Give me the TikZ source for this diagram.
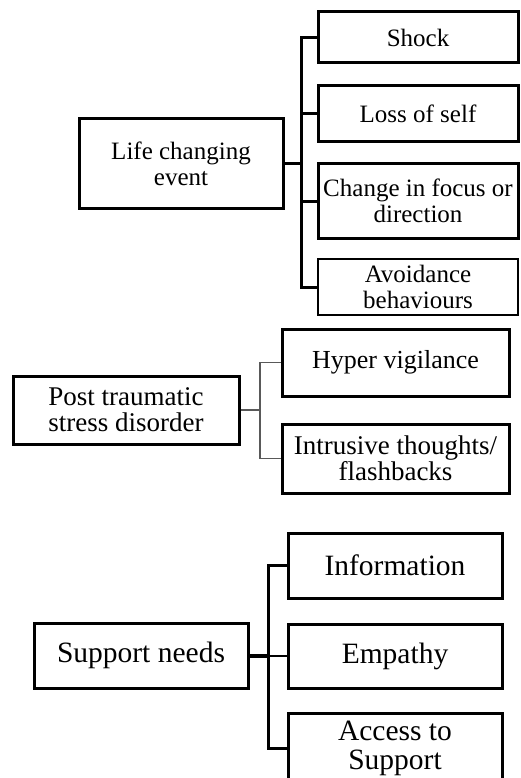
\documentclass[tikz,border=0pt]{standalone}
\usepackage{fontspec}
\setmainfont{Liberation Serif}
\begin{document}
\begin{tikzpicture}[x=1pt,y=-1pt,
  box/.style={draw=black,line width=3pt,fill=white,align=center,inner sep=0pt,text=black},
  thinbox/.style={draw=black,line width=1.3pt,fill=white,align=center,inner sep=0pt,text=black},
  topfont/.style={font=\fontsize{25}{26}\selectfont},
  midfont/.style={font=\fontsize{27}{26}\selectfont},
  botfont/.style={font=\fontsize{29.5}{29}\selectfont},
  conn/.style={draw=black,line width=3pt},
  thinconn/.style={draw=black!65,line width=1.2pt},
  medconn/.style={draw=black,line width=2pt}]
\useasboundingbox (0,0) rectangle (520,778);
\clip (0,0) rectangle (520,778);
\fill[white] (0,0) rectangle (520,778);
% top group
\node[box,topfont,minimum width=204pt,minimum height=89pt] (life) at (181,163.5) {Life changing\\event};
\node[box,topfont,minimum width=200pt,minimum height=51pt] (shock) at (418,37.5) {Shock};
\node[box,topfont,minimum width=200pt,minimum height=56pt] (loss) at (418,114) {Loss of self};
\node[box,topfont,minimum width=200pt,minimum height=74pt] (change) at (418,201) {Change in focus or\\direction};
\node[thinbox,topfont,minimum width=200pt,minimum height=56pt] (avoid) at (418,287) {Avoidance\\behaviours};
\coordinate (tj) at (301,163.5);
\draw[conn] (shock.west) -| (tj) |- (avoid.west);
\draw[conn] (life.east) -- (tj);
\draw[conn] (loss.west) -- (loss.west -| tj);
\draw[conn] (change.west) -- (change.west -| tj);
% middle group
\node[box,midfont,minimum width=226pt,minimum height=68pt] (ptsd) at (126,410) {Post traumatic\\stress disorder};
\node[box,font=\fontsize{26}{25}\selectfont,minimum width=227pt,minimum height=67pt] (hyper) at (395.5,362.5) {Hyper vigilance};
\node[box,midfont,minimum width=227pt,minimum height=69pt] (intr) at (395.5,458.5) {Intrusive thoughts/\\flashbacks};
\coordinate (mj) at (260,410);
\draw[thinconn] (hyper.west) -| (mj) |- (intr.west);
\draw[thinconn] (ptsd.east) -- (mj);
% bottom group
\node[box,botfont,minimum width=214pt,minimum height=65pt] (sup) at (141,655.5) {Support needs};
\node[box,botfont,minimum width=214pt,minimum height=65pt] (info) at (395,565.5) {Information};
\node[box,botfont,minimum width=214pt,minimum height=64pt] (emp) at (395,656) {Empathy};
\node[box,botfont,minimum width=214pt,minimum height=70pt] (acc) at (395,748) {Access to\\Support};
\coordinate (bj) at (268,655.5);
\draw[conn] (info.west) -| (bj) |- (acc.west);
\draw[line width=4pt] (sup.east) -- (bj);
\draw[medconn] (emp.west) -- (emp.west -| bj);
\end{tikzpicture}
\end{document}
